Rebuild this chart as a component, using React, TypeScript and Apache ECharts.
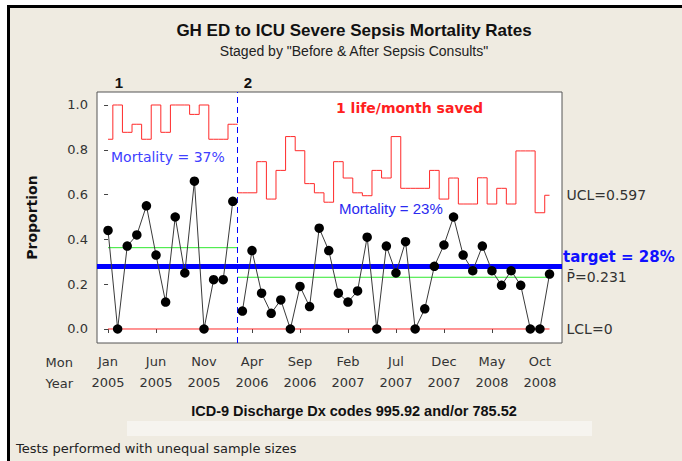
import React, { useEffect, useRef } from "react";
import * as echarts from "echarts";

// ---- data ----
const proportion = [
  0.44, 0, 0.37, 0.42, 0.55, 0.33, 0.12, 0.5, 0.25, 0.66, 0, 0.22, 0.22, 0.57,
  0.08, 0.35, 0.16, 0.07, 0.13, 0, 0.19, 0.1, 0.45, 0.35, 0.16, 0.12, 0.17, 0.41, 0,
  0.37, 0.25, 0.39, 0, 0.09, 0.28, 0.375, 0.5, 0.33, 0.26, 0.37, 0.26, 0.195, 0.26,
  0.195, 0, 0, 0.245,
];
const upperLimit = [
  0.847, 1, 0.878, 0.914, 0.847, 1, 0.878, 1, 1, 0.958, 1, 0.847, 0.847, 0.914,
  0.608, 0.608, 0.747, 0.58, 0.708, 0.859, 0.796, 0.649, 0.608, 0.566, 0.747, 0.674,
  0.608, 0.595, 0.708, 0.674, 0.859, 0.628, 0.628, 0.628, 0.708, 0.58, 0.674, 0.558,
  0.558, 0.675, 0.558, 0.628, 0.558, 0.795, 0.795, 0.519, 0.597,
];
const stageStart = [0, 14];
const stageEnd = [13, 46];
const stageNames = ["1", "2"];
const centerLine = [0.363, 0.231];
const lowerLimit = [0, 0];
const target = 0.28;
const tickIndex = [0, 5, 10, 15, 20, 25, 30, 35, 40, 45];
const tickMonths = ["Jan", "Jun", "Nov", "Apr", "Sep", "Feb", "Jul", "Dec", "May", "Oct"];
const tickYears = ["2005", "2005", "2005", "2006", "2006", "2007", "2007", "2007", "2008", "2008"];
const yTicks = [0, 0.2, 0.4, 0.6, 0.8, 1.0];

const DV = "'DejaVu Sans', sans-serif";
const LS = "'Liberation Sans', Arial, sans-serif";

const GRID = { left: 97, top: 92, width: 465, height: 251 };
const Y_MIN = -0.0625;
const Y_MAX = 1.058;

function buildOption() {
  const series: any[] = [];
  const nStages = stageStart.length;
  const bounds: number[] = [];
  for (let s = 1; s < nStages; s++) bounds.push((stageEnd[s - 1] + stageStart[s]) / 2);

  const endLbl = (show: boolean, txt: string) =>
    show
      ? { show: true, formatter: txt, distance: 17, color: "#333", fontFamily: DV, fontSize: 14 }
      : { show: false };

  for (let s = 0; s < nStages; s++) {
    const lo = s === 0 ? stageStart[0] : bounds[s - 1];
    const hi = s === nStages - 1 ? stageEnd[s] : bounds[s];
    const idx: number[] = [];
    for (let i = stageStart[s]; i <= stageEnd[s]; i++) idx.push(i);
    const last = s === nStages - 1;

    const uclData: number[][] = [];
    if (lo < stageStart[s]) uclData.push([lo, upperLimit[stageStart[s]]]);
    idx.forEach((i) => uclData.push([i, upperLimit[i]]));
    if (hi > stageEnd[s]) uclData.push([hi, upperLimit[stageEnd[s]]]);

    series.push({
      type: "line",
      step: "middle",
      data: uclData,
      symbol: "none",
      lineStyle: { color: "#ff2a2a", width: 1 },
      z: 2,
      endLabel: endLbl(last, "UCL=" + upperLimit[stageEnd[s]].toFixed(3)),
    });
    series.push({
      type: "line",
      data: [
        [lo, centerLine[s]],
        [hi, centerLine[s]],
      ],
      symbol: "none",
      lineStyle: { color: "#2ee82e", width: 1 },
      z: 2,
      endLabel: endLbl(last, "P\u0304=" + centerLine[s].toFixed(3)),
    });
    series.push({
      type: "line",
      data: [
        [lo, lowerLimit[s]],
        [hi, lowerLimit[s]],
      ],
      symbol: "none",
      lineStyle: { color: "#ff2a2a", width: 1 },
      z: 2,
      endLabel: endLbl(last, "LCL=" + lowerLimit[s]),
    });
    series.push({
      type: "line",
      data: idx.map((i) => [i, proportion[i]]),
      symbol: "circle",
      symbolSize: 9.5,
      itemStyle: { color: "#000" },
      lineStyle: { color: "#3a3a3a", width: 1 },
      z: 6,
    });
  }

  // target line + stage divider
  series.push({
    type: "line",
    data: [],
    z: 4,
    markLine: {
      silent: true,
      symbol: ["none", "none"],
      label: { show: false },
      data: [
        {
          yAxis: target,
          lineStyle: { color: "#0000ff", width: 5, type: "solid" },
        },
        ...bounds.map((b) => ({
          xAxis: b,
          lineStyle: { color: "#0000ff", width: 1, type: [6, 4] },
        })),
      ],
    },
  });

  const text = (t: string, x: number, y: number, font: string, fill: string, align = "left") => ({
    type: "text",
    x,
    y,
    silent: true,
    style: { text: t, font, fill, textAlign: align, textVerticalAlign: "middle" },
  });

  const targetY = GRID.top + ((Y_MAX - target) / (Y_MAX - Y_MIN)) * GRID.height;

  return {
    animation: false,
    backgroundColor: "transparent",
    grid: {
      ...GRID,
      show: true,
      backgroundColor: "#ffffff",
      borderColor: "#555",
      borderWidth: 1,
    },
    xAxis: {
      type: "value",
      min: -1.15,
      max: 47.3,
      axisLine: { show: false },
      splitLine: { show: false },
      axisTick: {
        show: true,
        customValues: tickIndex,
        length: 4,
        lineStyle: { color: "#444" },
      },
      axisLabel: {
        customValues: tickIndex,
        formatter: (v: number) => {
          const k = tickIndex.indexOf(Math.round(v));
          return k < 0 ? "" : tickMonths[k] + "\n" + tickYears[k];
        },
        margin: 8,
        lineHeight: 21,
        color: "#333",
        fontFamily: DV,
        fontSize: 13,
      },
    },
    yAxis: {
      type: "value",
      min: Y_MIN,
      max: Y_MAX,
      name: "Proportion",
      nameLocation: "middle",
      nameGap: 58,
      nameTextStyle: { fontFamily: DV, fontWeight: "bold", fontSize: 14, color: "#111" },
      axisLine: { show: false },
      splitLine: { show: false },
      axisTick: {
        show: true,
        customValues: yTicks,
        length: 4,
        lineStyle: { color: "#444" },
      },
      axisLabel: {
        customValues: yTicks,
        formatter: (v: number) => v.toFixed(1),
        margin: 9,
        color: "#333",
        fontFamily: DV,
        fontSize: 13,
      },
    },
    graphic: [
      { type: "rect", silent: true, shape: { x: 127, y: 421, width: 465, height: 15 }, style: { fill: "#f6f4ef" } },
      text("GH ED to ICU Severe Sepsis Mortality Rates", 354, 30, "bold 17px " + LS, "#111", "center"),
      text('Staged by "Before & After Sepsis Consults"', 354, 51, "14px " + LS, "#222", "center"),
      text(stageNames[0], 119, 82, "bold 15px " + LS, "#111", "center"),
      text(stageNames[1], 248, 82, "bold 15px " + LS, "#111", "center"),
      text("Mortality = 37%", 111, 157, "14px " + DV, "#4040ff"),
      text("1 life/month saved", 336, 108, "bold 14px " + DV, "#ff2020"),
      text("Mortality = 23%", 339, 208, "15px " + LS, "#2a2af0"),
      text("target = " + Math.round(target * 100) + "%", GRID.left + GRID.width + 1, targetY - 9, "bold 15px " + DV, "#1010ff"),
      text("Mon", 73, 362, "13px " + DV, "#333", "right"),
      text("Year", 73, 383, "13px " + DV, "#333", "right"),
      text("ICD-9 Discharge Dx codes 995.92 and/or 785.52", 354, 411, "bold 14.5px " + LS, "#111", "center"),
      text("Tests performed with unequal sample sizes", 16, 448, "13px " + DV, "#222"),
    ],
    series,
  };
}

export default function App() {
  const ref = useRef<HTMLDivElement>(null);
  useEffect(() => {
    if (!ref.current) return;
    const chart = echarts.init(ref.current, null, { renderer: "svg" });
    chart.setOption(buildOption() as any);
    return () => chart.dispose();
  }, []);
  return (
    <div style={{ position: "fixed", left: 0, top: 0, width: 682, height: 461, background: "#ffffff" }}>
      <div
        style={{
          position: "absolute",
          left: 7,
          top: 5,
          width: 675,
          height: 456,
          background: "#efebe1",
          borderTop: "3px solid #000",
          borderLeft: "3px solid #000",
          boxSizing: "border-box",
        }}
      />
      <div ref={ref} style={{ position: "absolute", left: 0, top: 0, width: 682, height: 461 }} />
    </div>
  );
}
